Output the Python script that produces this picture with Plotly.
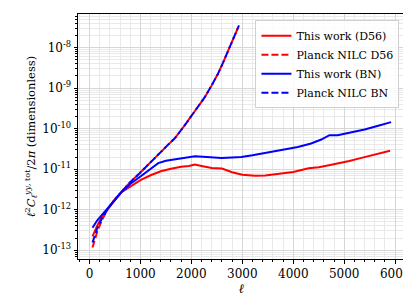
import plotly.graph_objects as go

# ---- data ----
ell_d56 = [60, 150, 250, 370, 500, 630, 800, 1000, 1200, 1400, 1600, 1800, 1950, 2070,
           2200, 2400, 2600, 2800, 3000, 3250, 3450, 3700, 4000, 4300, 4500, 4700, 4900,
           5100, 5300, 5500, 5700, 5900]
cl_d56 = [2.2e-13, 4.0e-13, 6.8e-13, 1.1e-12, 1.75e-12, 2.7e-12, 3.8e-12, 5.4e-12, 7.1e-12,
          8.9e-12, 1.02e-11, 1.15e-11, 1.2e-11, 1.3e-11, 1.2e-11, 1.07e-11, 1.04e-11, 8.4e-12,
          7.3e-12, 6.9e-12, 7.0e-12, 7.6e-12, 8.5e-12, 1.05e-11, 1.12e-11, 1.25e-11, 1.4e-11,
          1.6e-11, 1.85e-11, 2.15e-11, 2.5e-11, 2.85e-11]

ell_bn = [60, 150, 250, 370, 500, 630, 800, 1000, 1200, 1350, 1500, 1740, 1900, 2070, 2300,
          2590, 2800, 2980, 3200, 3440, 3630, 3830, 4090, 4350, 4550, 4710, 4870, 5100, 5400,
          5650, 5920]
cl_bn = [3.6e-13, 5.4e-13, 7.6e-13, 1.1e-12, 1.74e-12, 2.75e-12, 4.3e-12, 6.6e-12, 1.02e-11,
         1.41e-11, 1.62e-11, 1.82e-11, 2.0e-11, 2.1e-11, 2.0e-11, 1.9e-11, 1.95e-11, 2.0e-11,
         2.2e-11, 2.5e-11, 2.75e-11, 3.0e-11, 3.55e-11, 4.3e-11, 5.4e-11, 6.9e-11, 6.9e-11,
         7.9e-11, 9.5e-11, 1.17e-10, 1.45e-10]

ell_planck = [60, 150, 250, 370, 500, 630, 800, 990, 1150, 1320, 1500, 1680, 1850, 2000,
              2130, 2260, 2390, 2520, 2620, 2720, 2830, 2935]
cl_planck_d56 = [1.17e-13, 2.8e-13, 5.75e-13, 1.1e-12, 1.82e-12, 2.8e-12, 4.8e-12, 8.1e-12,
                 1.26e-11, 2.1e-11, 3.55e-11, 5.9e-11, 1.12e-10, 2.04e-10, 3.47e-10, 5.9e-10,
                 1.12e-9, 2.24e-9, 4.2e-9, 8.5e-9, 1.7e-8, 3.55e-8]
cl_planck_bn = [1.55e-13, 3.4e-13, 6.3e-13, 1.1e-12, 1.82e-12, 2.8e-12, 4.8e-12, 8.1e-12,
                1.26e-11, 2.1e-11, 3.55e-11, 5.9e-11, 1.12e-10, 2.04e-10, 3.47e-10, 5.9e-10,
                1.12e-9, 2.24e-9, 4.2e-9, 8.5e-9, 1.7e-8, 3.55e-8]

x_ticks = [0, 1000, 2000, 3000, 4000, 5000, 6000]
y_exps = [-13, -12, -11, -10, -9, -8]
y_ticks = [10.0 ** e for e in y_exps]
y_ticktext = ["10<sup>%d</sup>" % e for e in y_exps]
y_minor = [m * 10.0 ** e for e in range(-14, -7) for m in range(2, 10)]

FONT = "DejaVu Serif"
RED = "#ff0000"
BLUE = "#0000ff"

fig = go.Figure()
fig.add_trace(go.Scatter(x=ell_d56, y=cl_d56, mode="lines", name="This work (D56)",
                         line=dict(color=RED, width=2)))
fig.add_trace(go.Scatter(x=ell_planck, y=cl_planck_d56, mode="lines", name="Planck NILC D56",
                         line=dict(color=RED, width=2, dash="7px,3px")))
fig.add_trace(go.Scatter(x=ell_bn, y=cl_bn, mode="lines", name="This work (BN)",
                         line=dict(color=BLUE, width=2)))
fig.add_trace(go.Scatter(x=ell_planck, y=cl_planck_bn, mode="lines", name="Planck NILC BN",
                         line=dict(color=BLUE, width=2, dash="7px,3px")))

axis_common = dict(showline=True, linecolor="black", linewidth=1, mirror=True,
                   ticks="outside", ticklen=3.5, tickwidth=0.8, tickcolor="black",
                   gridcolor="#d6d6d6", gridwidth=0.8, zeroline=False,
                   tickfont=dict(family=FONT, size=12, color="black"))

fig.update_xaxes(range=[-225, 6193], tickmode="array", tickvals=x_ticks,
                 minor=dict(dtick=200, ticks="outside", ticklen=2, tickcolor="black",
                            showgrid=True, gridcolor="#e9e9e9", gridwidth=0.6),
                 title=dict(text="<i>ℓ</i>", font=dict(family=FONT, size=13, color="black"),
                            standoff=0),
                 **axis_common)
fig.update_yaxes(type="log", range=[-13.216, -7.17], tickmode="array", tickvals=y_ticks,
                 ticktext=y_ticktext,
                 minor=dict(tickvals=y_minor, ticks="outside", ticklen=2, tickcolor="black",
                            showgrid=True, gridcolor="#e9e9e9", gridwidth=0.6),
                 title=dict(text="<i>ℓ</i><sup>2</sup><i>C</i><sub><i>ℓ</i></sub><sup><i>yy</i>, tot</sup>/2<i>π</i> (dimensionless)",
                            font=dict(family=FONT, size=11.5, color="black"), standoff=4),
                 **axis_common)

fig.update_layout(
    width=411, height=296,
    margin=dict(l=70, r=14, t=6, b=45),
    plot_bgcolor="white", paper_bgcolor="white",
    font=dict(family=FONT, size=12, color="black"),
    legend=dict(x=0.983, y=0.975, xanchor="right", yanchor="top",
                bgcolor="rgba(255,255,255,0.85)", bordercolor="#d0d0d0", borderwidth=1,
                font=dict(family=FONT, size=11, color="black"), tracegroupgap=0,
                itemwidth=30),
)

fig.write_html("out.html")
